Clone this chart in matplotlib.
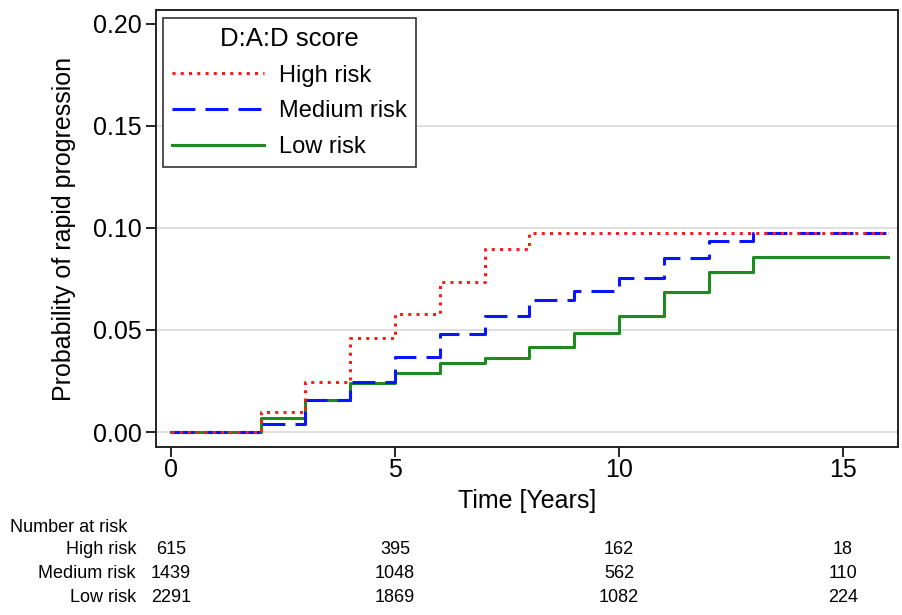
import numpy as np
import matplotlib
matplotlib.use("Agg")
import matplotlib.pyplot as plt
import matplotlib.transforms as mtransforms

plt.rcParams['font.family'] = ['Liberation Sans', 'DejaVu Sans']

# step times (years) and cumulative probability of rapid progression
times = [0, 2, 3, 4, 5, 6, 7, 8, 9, 10, 11, 12, 13, 16]
high_risk = [0, 0.0097, 0.0244, 0.0459, 0.0577, 0.0737, 0.0897, 0.0974,
             0.0974, 0.0974, 0.0974, 0.0974, 0.0974, 0.0974]
medium_risk = [0, 0.0038, 0.0157, 0.0244, 0.0369, 0.0479, 0.0567, 0.0647,
               0.0691, 0.0753, 0.0854, 0.0938, 0.0974, 0.0974]
low_risk = [0, 0.0070, 0.0157, 0.0239, 0.0288, 0.0337, 0.0363, 0.0415,
            0.0484, 0.0569, 0.0688, 0.0786, 0.0859, 0.0859]

# number at risk table
risk_times = [0, 5, 10, 15]
risk_groups = ["High risk", "Medium risk", "Low risk"]
n_high = [615, 395, 162, 18]
n_medium = [1439, 1048, 562, 110]
n_low = [2291, 1869, 1082, 224]

fig = plt.figure(figsize=(9.02, 6.15), dpi=100)
ax = fig.add_axes([0.173, 0.273, 0.8226, 0.711])

# light horizontal grid (none at the top tick)
for y in [0.0, 0.05, 0.10, 0.15]:
    ax.axhline(y, color="#dcdcdc", lw=1.3, zorder=0)

ax.step(times, low_risk, where="post", color="#1f8a1f", lw=2.2, label="Low risk", zorder=2)
ax.step(times, medium_risk, where="post", color="#0a14ff", lw=2.2,
        dashes=(7.5, 3.3), label="Medium risk", zorder=3)
ax.step(times, high_risk, where="post", color="#ff1a1a", lw=2.2,
        dashes=(1, 1.7), label="High risk", zorder=4)

ax.set_xlim(-0.335, 16.23)
ax.set_ylim(-0.0074, 0.2069)
ax.set_xticks([0, 5, 10, 15])
ax.set_yticks([0.0, 0.05, 0.10, 0.15, 0.20])
ax.set_yticklabels(["0.00", "0.05", "0.10", "0.15", "0.20"])
ax.tick_params(labelsize=18, length=7, width=1.2, direction="out")
ax.tick_params(axis="x", pad=1)
for s in ax.spines.values():
    s.set_linewidth(1.4)
    s.set_color("#222222")

ax.set_xlabel("Time [Years]", fontsize=18, labelpad=5)
ax.set_ylabel("Probability of rapid progression", fontsize=18, labelpad=12)

handles, labels = ax.get_legend_handles_labels()
leg = ax.legend(handles[::-1], labels[::-1], title="D:A:D score", loc="upper left",
                bbox_to_anchor=(7 / 742, 1 - 8 / 437), borderaxespad=0,
                fontsize=17, title_fontsize=18.5,
                fancybox=False, edgecolor="#333333", framealpha=1,
                handlelength=3.9, handletextpad=0.65, borderpad=0.38,
                labelspacing=0.58)
leg.get_frame().set_linewidth(1.2)

# number at risk table below the axes
tr = mtransforms.blended_transform_factory(ax.transData, fig.transFigure)
fig.text(10 / 902, 1 - 528 / 615, "Number at risk", fontsize=13, va="center", ha="left")
rows_y = [549, 573, 597]
for name, counts, py in zip(risk_groups, [n_high, n_medium, n_low], rows_y):
    fig.text(136 / 902, 1 - py / 615, name, fontsize=13, va="center", ha="right")
    for t, n in zip(risk_times, counts):
        ax.text(t, 1 - py / 615, str(n), transform=tr, fontsize=13,
                va="center", ha="center", clip_on=False)

fig.savefig("out.png", dpi=100)
